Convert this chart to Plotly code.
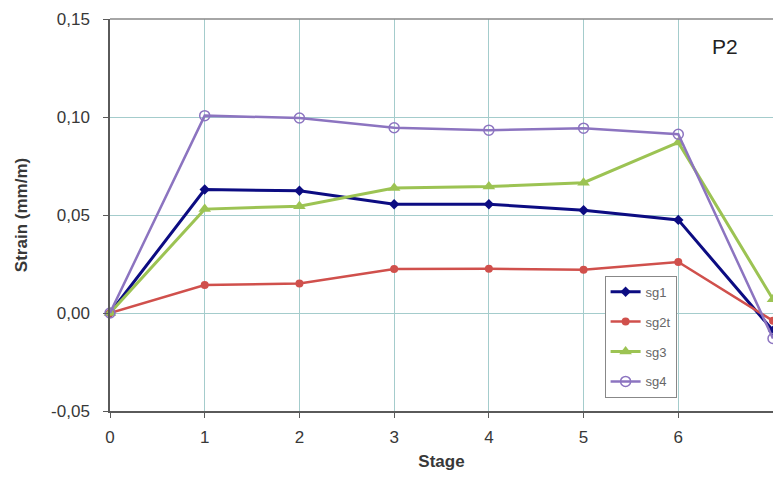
import plotly.graph_objects as go

stages = [0, 1, 2, 3, 4, 5, 6, 7]
sg1 = [0.0, 0.0630, 0.0624, 0.0555, 0.0555, 0.0524, 0.0475, -0.009]
sg2t = [0.0, 0.0143, 0.0150, 0.0224, 0.0226, 0.0221, 0.0260, -0.004]
sg3 = [0.0, 0.0530, 0.0545, 0.0638, 0.0645, 0.0665, 0.0870, 0.0070]
sg4 = [0.0, 0.1007, 0.0995, 0.0945, 0.0933, 0.0943, 0.0912, -0.013]
y_ticks = [-0.05, 0.0, 0.05, 0.10, 0.15]
y_tick_labels = ["-0,05", "0,00", "0,05", "0,10", "0,15"]

series = [
    ("sg1", sg1, "#0c0c82", dict(symbol="diamond", size=8, color="#0c0c82"), 3),
    ("sg2t", sg2t, "#d0504c", dict(symbol="circle", size=8, color="#d0504c"), 2.5),
    ("sg3", sg3, "#9cc353", dict(symbol="triangle-up", size=11, color="#9cc353"), 3),
    ("sg4", sg4, "#8c74c0", dict(symbol="circle-open", size=10, color="#8c74c0", line=dict(width=1.5)), 2.5),
]

fig = go.Figure()
for i, (name, vals, col, mk, lw) in enumerate(series):
    fig.add_trace(go.Scatter(
        x=stages, y=vals, name=name, mode="lines+markers",
        line=dict(color=col, width=lw), marker=mk,
        legendgroup=f"g{i}", cliponaxis=False,
    ))

grid = "#a4cccc"
axis_col = "#5a5a5a"
txt = "#383838"
fig.update_layout(
    width=765, height=463,
    margin=dict(l=102, r=0, t=11, b=60),
    paper_bgcolor="white", plot_bgcolor="white",
    font=dict(family="Liberation Sans, Arial", size=17, color=txt),
    showlegend=True,
    legend=dict(
        x=0.746, y=0.345, xanchor="left", yanchor="top",
        bordercolor="#888888", borderwidth=1, bgcolor="white",
        font=dict(size=13, color="#666666"),
        traceorder="grouped", tracegroupgap=10,
        itemwidth=30,
    ),
    xaxis=dict(
        range=[0, 7], tickmode="array", tickvals=stages,
        showgrid=True, gridcolor=grid, gridwidth=1,
        showline=True, linecolor=axis_col, linewidth=1.5,
        ticks="outside", ticklen=5, tickcolor=axis_col,
        ticklabelstandoff=5,
        zeroline=False,
        title=dict(text="<b>Stage</b>", font=dict(size=17, color=txt), standoff=10),
        tickfont=dict(size=17, color=txt),
    ),
    yaxis=dict(
        range=[-0.05, 0.15], tickmode="array", tickvals=y_ticks, ticktext=y_tick_labels,
        showgrid=True, gridcolor=grid, gridwidth=1,
        showline=True, linecolor=axis_col, linewidth=1.5,
        ticks="outside", ticklen=5, tickcolor=axis_col,
        ticklabelstandoff=10,
        zeroline=False,
        title=dict(text="<b>Strain (mm/m)</b>", font=dict(size=17, color=txt), standoff=19),
        tickfont=dict(size=17, color=txt),
    ),
    annotations=[dict(
        text="P2", xref="paper", yref="paper", x=0.927, y=0.93,
        xanchor="center", yanchor="middle",
        showarrow=False, font=dict(size=21, color="#222222"),
    )],
    shapes=[dict(type="line", xref="paper", yref="paper", x0=0, x1=1, y0=1, y1=1,
                 line=dict(color="#888888", width=1.5))],
)

fig.write_html("out.html")
